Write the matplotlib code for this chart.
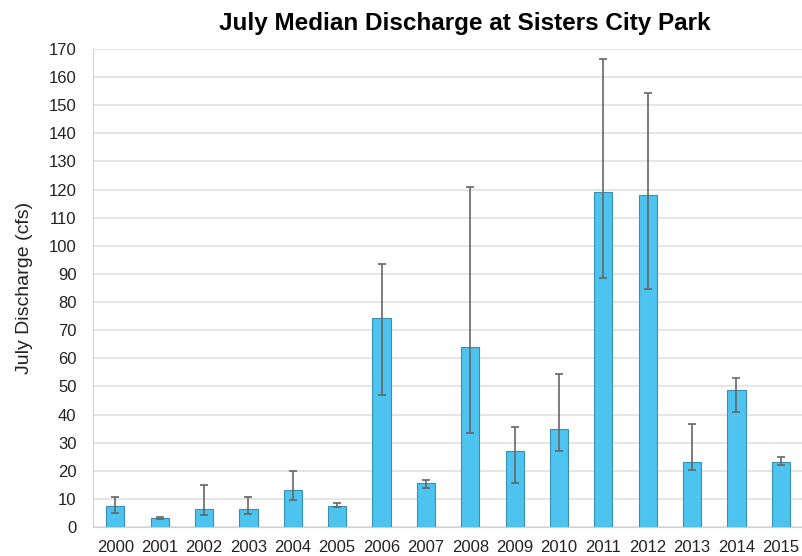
import matplotlib.pyplot as plt
import numpy as np

plt.rcParams['font.family'] = ['Liberation Sans', 'DejaVu Sans']

# data
years = ['2000', '2001', '2002', '2003', '2004', '2005', '2006', '2007',
         '2008', '2009', '2010', '2011', '2012', '2013', '2014', '2015']
median = [7.5, 3.2, 6.6, 6.4, 13.1, 7.5, 74.3, 15.8,
          64.0, 26.9, 34.9, 119.2, 118.2, 23.0, 48.9, 23.0]
err_low = [5.1, 2.75, 4.2, 4.6, 9.8, 7.0, 46.8, 13.9,
           33.5, 15.8, 26.9, 88.7, 84.8, 20.3, 41.0, 22.0]
err_high = [10.6, 3.6, 15.0, 10.6, 20.1, 8.6, 93.6, 16.9,
            120.8, 35.5, 54.5, 166.5, 154.5, 36.8, 53.1, 24.9]

x = np.arange(len(years))
lower = np.array(median) - np.array(err_low)
upper = np.array(err_high) - np.array(median)

fig = plt.figure(figsize=(8.03, 5.56), dpi=100)
ax = fig.add_axes([0.116, 0.052, 0.884, 0.86])

ax.bar(x, median, width=0.41, color='#4dc4f0', edgecolor='#3a8fb0',
       linewidth=0.8, zorder=2)
ax.errorbar(x, median, yerr=[lower, upper], fmt='none', ecolor='#666666',
            elinewidth=1.2, capsize=3, capthick=1.2, zorder=3)

ax.set_xlim(-0.5, len(years) - 0.5)
ax.set_ylim(0, 170)
ax.set_yticks(np.arange(0, 171, 10))
ax.set_xticks(x)
ax.set_xticklabels(years)
ax.tick_params(axis='both', length=0, labelsize=12, colors='#222222')
ax.tick_params(axis='x', pad=9)
ax.tick_params(axis='y', pad=12)

ax.grid(axis='y', color='#e2e2e2', linewidth=1.2, zorder=0)
for s in ['top', 'right']:
    ax.spines[s].set_visible(False)
ax.spines['left'].set_color('#d0d0d0')
ax.spines['bottom'].set_color('#d0d0d0')

ax.set_ylabel('July Discharge (cfs)', fontsize=14, color='#222222', labelpad=11)
fig.suptitle('July Median Discharge at Sisters City Park', fontsize=17.5,
             fontweight='bold', x=0.579, y=0.978)

plt.savefig('out.png', dpi=100)
